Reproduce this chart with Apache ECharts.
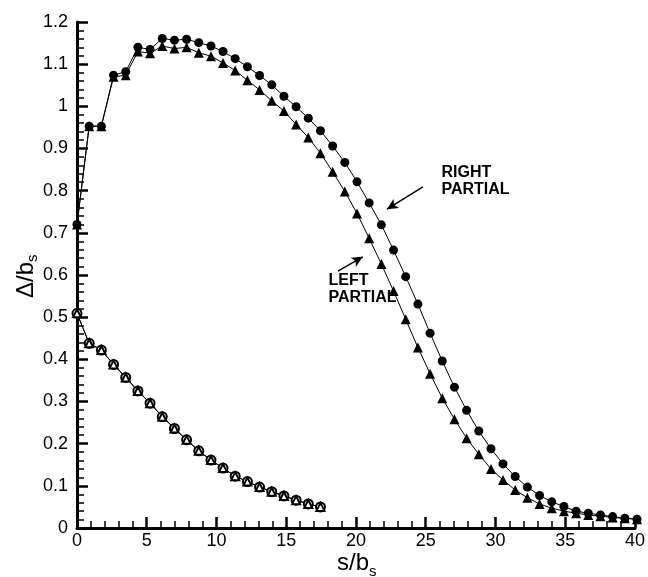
<!DOCTYPE html>
<html>
<head>
<meta charset="utf-8">
<script src="https://cdn.jsdelivr.net/npm/echarts@6/dist/echarts.min.js"></script>
<style>
html,body{margin:0;padding:0;background:#fff;}
#wrap{position:relative;width:648px;height:577px;}
#axes,#main{position:absolute;left:0;top:0;width:648px;height:577px;}
#err{position:absolute;left:90px;top:380px;width:200px;font:10px monospace;color:red;}
</style>
</head>
<body>
<div id="wrap"><div id="axes"></div><div id="main"></div></div>
<div id="err"></div>
<script>
window.onerror = function (m) { document.getElementById('err').textContent += 'ERR ' + m + ' | '; };

// s/b_s station of every sample
var sPos = [0, 0.87, 1.74, 2.61, 3.48, 4.35, 5.22, 6.09, 6.96, 7.83, 8.70, 9.57, 10.43, 11.30,
  12.17, 13.04, 13.91, 14.78, 15.65, 16.52, 17.39, 18.26, 19.13, 20.00, 20.87, 21.74, 22.61,
  23.48, 24.35, 25.22, 26.09, 26.96, 27.83, 28.70, 29.57, 30.43, 31.30, 32.17, 33.04, 33.91,
  34.78, 35.65, 36.52, 37.39, 38.26, 39.13, 40.00];
// right partial (filled circles)
var rightPartial = [0.72, 0.953, 0.953, 1.074, 1.082, 1.140, 1.135, 1.161, 1.157, 1.159, 1.151,
  1.143, 1.130, 1.113, 1.094, 1.073, 1.051, 1.024, 0.999, 0.972, 0.942, 0.906, 0.867, 0.821,
  0.771, 0.719, 0.659, 0.596, 0.531, 0.462, 0.396, 0.334, 0.279, 0.230, 0.188, 0.152, 0.122,
  0.097, 0.077, 0.062, 0.051, 0.040, 0.035, 0.031, 0.027, 0.023, 0.021];
// left partial (filled triangles)
var leftPartial = [0.72, 0.953, 0.953, 1.070, 1.074, 1.130, 1.126, 1.143, 1.137, 1.140, 1.127,
  1.119, 1.103, 1.085, 1.062, 1.039, 1.013, 0.989, 0.957, 0.926, 0.889, 0.845, 0.798, 0.746,
  0.687, 0.626, 0.562, 0.495, 0.428, 0.366, 0.308, 0.258, 0.213, 0.175, 0.140, 0.114, 0.090,
  0.072, 0.057, 0.047, 0.040, 0.035, 0.031, 0.028, 0.025, 0.023, 0.021];
// lower curve (open circles / open triangles on top of each other)
var lowerCurve = [0.509, 0.438, 0.422, 0.388, 0.357, 0.325, 0.296, 0.264, 0.236, 0.209, 0.183,
  0.161, 0.142, 0.123, 0.110, 0.097, 0.086, 0.076, 0.066, 0.057, 0.050];

var xTicks = [0, 40, 5];
var yTicks = [0, 1.2, 0.1];

// annotation text + arrow, in data coordinates
var noteText = ['RIGHT\nPARTIAL', 'LEFT\nPARTIAL'];
var noteAt = [[26.07, 0.863], [18.0, 0.605]];
var arrowFrom = [[24.71, 0.809], [18.64, 0.609]];
var arrowTo = [[22.14, 0.756], [20.41, 0.643]];

var FONT = 'Liberation Sans, Arial, Helvetica, sans-serif';
var GRID = {left: 77, right: 11, top: 22, bottom: 49};

function pairs(vals) {
  var out = [];
  for (var i = 0; i < vals.length; i++) out.push([sPos[i], vals[i]]);
  return out;
}

// the black frame: axis line, inside ticks, minor ticks, labels
function frameAxis(ticks, labelMargin) {
  return {
    type: 'value', min: ticks[0], max: ticks[1], interval: ticks[2],
    splitLine: {show: false},
    axisLine: {show: true, lineStyle: {color: '#000', width: 3}},
    axisTick: {show: true, inside: true, length: 11, lineStyle: {color: '#000', width: 2.5}},
    minorTick: {show: true, splitNumber: 5, length: 7, lineStyle: {color: '#000', width: 1.5}},
    axisLabel: {color: '#000', fontSize: 18, fontFamily: FONT, margin: labelMargin}
  };
}
// same scale, nothing drawn (the data layer sits on top of the frame)
function hiddenAxis(ticks) {
  return {type: 'value', min: ticks[0], max: ticks[1], interval: ticks[2], show: false,
    splitLine: {show: false}};
}

// frame layer
var axesChart = echarts.init(document.getElementById('axes'));
axesChart.setOption({
  animation: false,
  backgroundColor: '#fff',
  grid: GRID,
  xAxis: frameAxis(xTicks, 4),
  yAxis: frameAxis(yTicks, 9),
  series: [{type: 'line', data: [[xTicks[0], yTicks[0]]], symbol: 'none', silent: true,
    lineStyle: {opacity: 0}}]
});

var markTexts = noteText.map(function (t, i) {
  return {
    coord: noteAt[i], value: t, symbol: 'circle', symbolSize: 1,
    itemStyle: {color: 'rgba(0,0,0,0)'},
    label: {show: true, formatter: t, position: [0, 0], align: 'left', verticalAlign: 'top',
      color: '#000', fontFamily: FONT, fontWeight: 'bold', fontSize: 16, lineHeight: 17}
  };
});
var markArrows = arrowFrom.map(function (a, i) {
  return [{coord: a}, {coord: arrowTo[i]}];
});

var titleFont = '24px ' + FONT, subFont = '15px ' + FONT;

// data layer
var myChart = echarts.init(document.getElementById('main'));
myChart.setOption({
  animation: false,
  backgroundColor: 'transparent',
  grid: GRID,
  xAxis: hiddenAxis(xTicks),
  yAxis: hiddenAxis(yTicks),
  graphic: [{
    type: 'group', x: 337, y: 551,
    children: [
      {type: 'text', x: 0, y: 0, style: {text: 's/b', font: titleFont, fill: '#000',
        textAlign: 'left', textVerticalAlign: 'top'}},
      {type: 'text', x: 32, y: 13, style: {text: 's', font: subFont, fill: '#000',
        textAlign: 'left', textVerticalAlign: 'top'}}
    ]
  }, {
    type: 'group', x: 26, y: 276, rotation: Math.PI / 2,
    children: [
      {type: 'text', x: -22, y: 0, style: {text: 'Δ/b', font: titleFont, fill: '#000',
        textAlign: 'left', textVerticalAlign: 'middle'}},
      {type: 'text', x: 14, y: 7, style: {text: 's', font: subFont, fill: '#000',
        textAlign: 'left', textVerticalAlign: 'middle'}}
    ]
  }],
  series: [{
    name: 'right', type: 'line', data: pairs(rightPartial),
    symbol: 'circle', symbolSize: 9,
    lineStyle: {color: '#000', width: 1}, itemStyle: {color: '#000'},
    markPoint: {silent: true, data: markTexts},
    markLine: {silent: true, symbol: ['none', 'arrow'], symbolSize: [8, 11],
      lineStyle: {color: '#000', width: 1.5, type: 'solid'},
      label: {show: false}, data: markArrows}
  }, {
    name: 'left', type: 'line', data: pairs(leftPartial),
    symbol: 'triangle', symbolSize: 10,
    lineStyle: {color: '#000', width: 1}, itemStyle: {color: '#000'}
  }, {
    name: 'lowerC', type: 'line', data: pairs(lowerCurve),
    symbol: 'emptyCircle', symbolSize: 9,
    lineStyle: {color: '#000', width: 1}, itemStyle: {color: '#000', borderWidth: 1}
  }, {
    name: 'lowerT', type: 'line', data: pairs(lowerCurve),
    symbol: 'emptyTriangle', symbolSize: 8,
    lineStyle: {color: '#000', width: 1}, itemStyle: {color: '#000', borderWidth: 1}
  }]
});
</script>
</body>
</html>
